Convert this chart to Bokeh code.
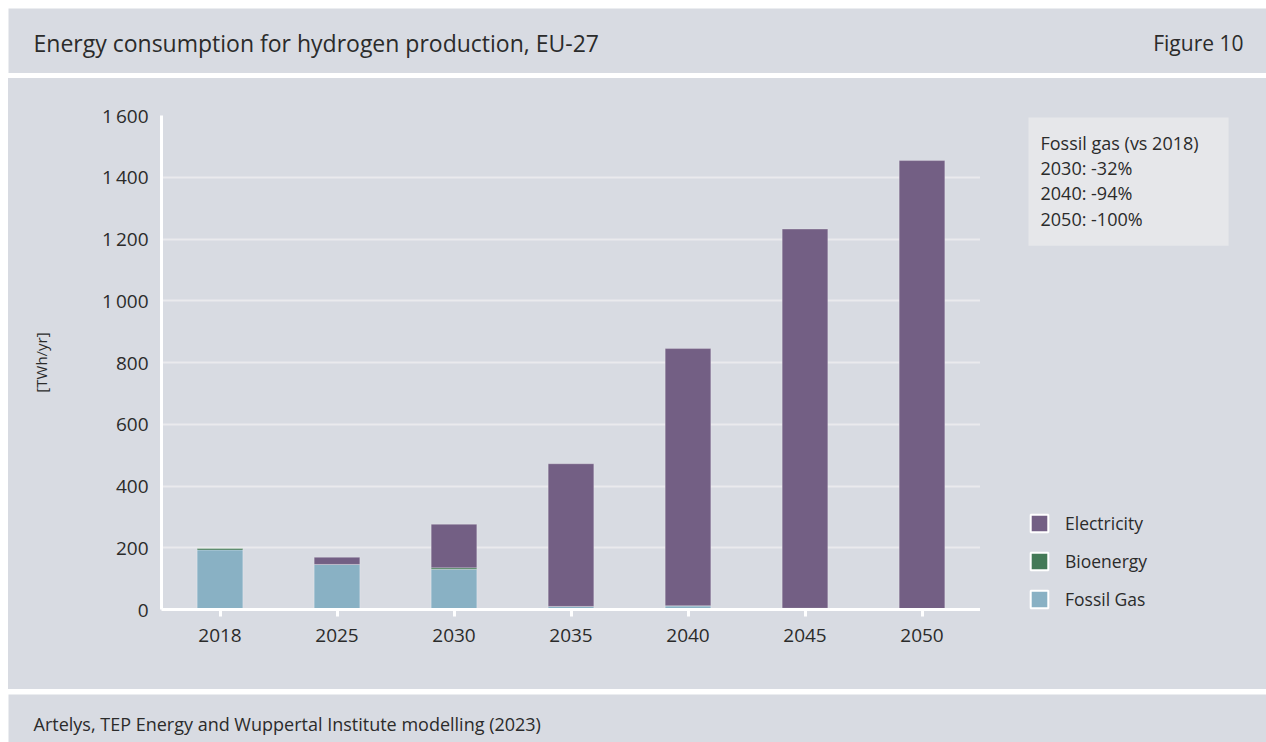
from bokeh.plotting import figure
from bokeh.models import (FactorRange, Range1d, Label, Legend, LegendItem,
                          FixedTicker, ColumnDataSource)
from bokeh.layouts import column, row
from bokeh.embed import file_html
from bokeh.resources import INLINE

# ---------------- data ----------------
years = ["2018", "2025", "2030", "2035", "2040", "2045", "2050"]
fossil_gas = [193, 146, 130, 10, 12, 0, 0]
bioenergy = [5, 0, 5, 0, 0, 4, 0]
electricity = [0, 23, 141, 462, 833, 1228, 1454]

series_names = ["Fossil Gas", "Bioenergy", "Electricity"]
legend_order = ["Electricity", "Bioenergy", "Fossil Gas"]
y_ticks = [0, 200, 400, 600, 800, 1000, 1200, 1400, 1600]
y_tick_labels = ["0", "200", "400", "600", "800", "1\u2009000", "1\u2009200", "1\u2009400", "1\u2009600"]

title_text = "Energy consumption for hydrogen production, EU-27"
figure_no = "Figure 10"
source_text = "Artelys, TEP Energy and Wuppertal Institute modelling (2023)"
y_label = "[TWh/yr]"
note_lines = ["Fossil gas (vs 2018)", "2030: -32%", "2040: -94%", "2050: -100%"]

# ---------------- style ----------------
BG = "#d8dbe2"
NOTE_BG = "#e6e7ea"
TEXT = "#2b2b2b"
COLORS = {"Fossil Gas": "#89b1c4", "Bioenergy": "#447a57", "Electricity": "#735f84"}
FONT = "Open Sans"
W = 1258
MAIN_H = 611
MAIN_W = 972


def blank_fig(w, h):
    f = figure(width=w, height=h, x_range=Range1d(0, 1), y_range=Range1d(0, 1),
               toolbar_location=None, output_backend="svg",
               x_axis_location=None, y_axis_location=None,
               min_border=0, background_fill_color=BG, border_fill_color=BG,
               outline_line_color=None, frame_align=False)
    f.xgrid.grid_line_color = None
    f.ygrid.grid_line_color = None
    f.grid.visible = False
    return f


# header
header = blank_fig(W, 65)
header.add_layout(Label(x=25, y=31, x_units="screen", y_units="screen", text=title_text,
                        text_font=FONT, text_font_size="23px", text_color=TEXT,
                        text_baseline="middle", text_align="left"))
header.add_layout(Label(x=1235, y=31, x_units="screen", y_units="screen", text=figure_no,
                        text_font=FONT, text_font_size="21px", text_color=TEXT,
                        text_baseline="middle", text_align="right"))

# main chart
src = ColumnDataSource(dict(years=years, **{"Fossil Gas": fossil_gas,
                                            "Bioenergy": bioenergy,
                                            "Electricity": electricity}))

p = figure(width=MAIN_W, height=MAIN_H, x_range=FactorRange(*years, range_padding=0),
           y_range=Range1d(0, 1600), toolbar_location=None, output_backend="svg",
           min_border_left=153, min_border_right=0, min_border_top=37,
           min_border_bottom=80, background_fill_color=BG, border_fill_color=BG,
           outline_line_color=None, frame_align=False)

p.vbar_stack(series_names, x="years", width=0.39, source=src,
             fill_color=[COLORS[n] for n in series_names],
             line_color="white", line_alpha=0.25, line_width=1)

p.xgrid.grid_line_color = None
p.ygrid.grid_line_color = "#eaeaed"
p.ygrid.grid_line_width = 2

p.yaxis.ticker = FixedTicker(ticks=y_ticks)
p.yaxis.major_label_overrides = {t: l for t, l in zip(y_ticks, y_tick_labels)}
p.yaxis.axis_line_color = "white"
p.yaxis.axis_line_width = 3
p.yaxis.major_tick_line_color = None
p.yaxis.minor_tick_line_color = None
p.yaxis.major_label_standoff = 7
p.yaxis.axis_label = y_label
p.yaxis.axis_label_text_font = FONT
p.yaxis.axis_label_text_font_size = "15px"
p.yaxis.axis_label_text_font_style = "normal"
p.yaxis.axis_label_text_color = TEXT
p.yaxis.axis_label_standoff = 48

p.xaxis.axis_line_color = "white"
p.xaxis.axis_line_width = 3
p.xaxis.major_tick_line_color = "white"
p.xaxis.major_tick_line_width = 3
p.xaxis.major_tick_in = 0
p.xaxis.major_tick_out = 7
p.xaxis.minor_tick_line_color = None
p.xaxis.major_label_standoff = 12

for ax in (p.xaxis, p.yaxis):
    ax.major_label_text_font = FONT
    ax.major_label_text_font_size = "19px"
    ax.major_label_text_color = TEXT

# side panel: note box + legend
side = blank_fig(W - MAIN_W, MAIN_H)

legend_items = []
for name in legend_order:
    r = side.rect(x=[-10], y=[-10], width=0.1, height=0.1, fill_color=COLORS[name],
                  line_color="white", line_width=2)
    legend_items.append(LegendItem(label=name, renderers=[r]))

legend = Legend(items=legend_items, location=(48, 78), orientation="vertical",
                glyph_width=22, glyph_height=22, label_height=22, spacing=14,
                label_standoff=15, padding=0, margin=0,
                border_line_color=None, background_fill_alpha=0,
                label_text_font=FONT, label_text_font_size="17.5px",
                label_text_color=TEXT)
side.add_layout(legend)

side.add_layout(Label(x=48, y=572, x_units="screen", y_units="screen",
                      text="\n".join(note_lines), text_font=FONT, text_font_size="18px",
                      text_color=TEXT, text_line_height=1.06, text_align="left",
                      text_baseline="top", background_fill_color=NOTE_BG,
                      padding=(12, 30, 13, 15)))

# footer
footer = blank_fig(W, 48)
footer.add_layout(Label(x=25, y=19, x_units="screen", y_units="screen", text=source_text,
                        text_font=FONT, text_font_size="18px", text_color=TEXT,
                        text_baseline="middle", text_align="left"))

middle = row(p, side, spacing=0, styles={"background-color": BG})
layout = column(header, middle, footer, spacing=5, margin=(8, 0, 0, 8))

open("out.html", "w").write(file_html(layout, INLINE))
